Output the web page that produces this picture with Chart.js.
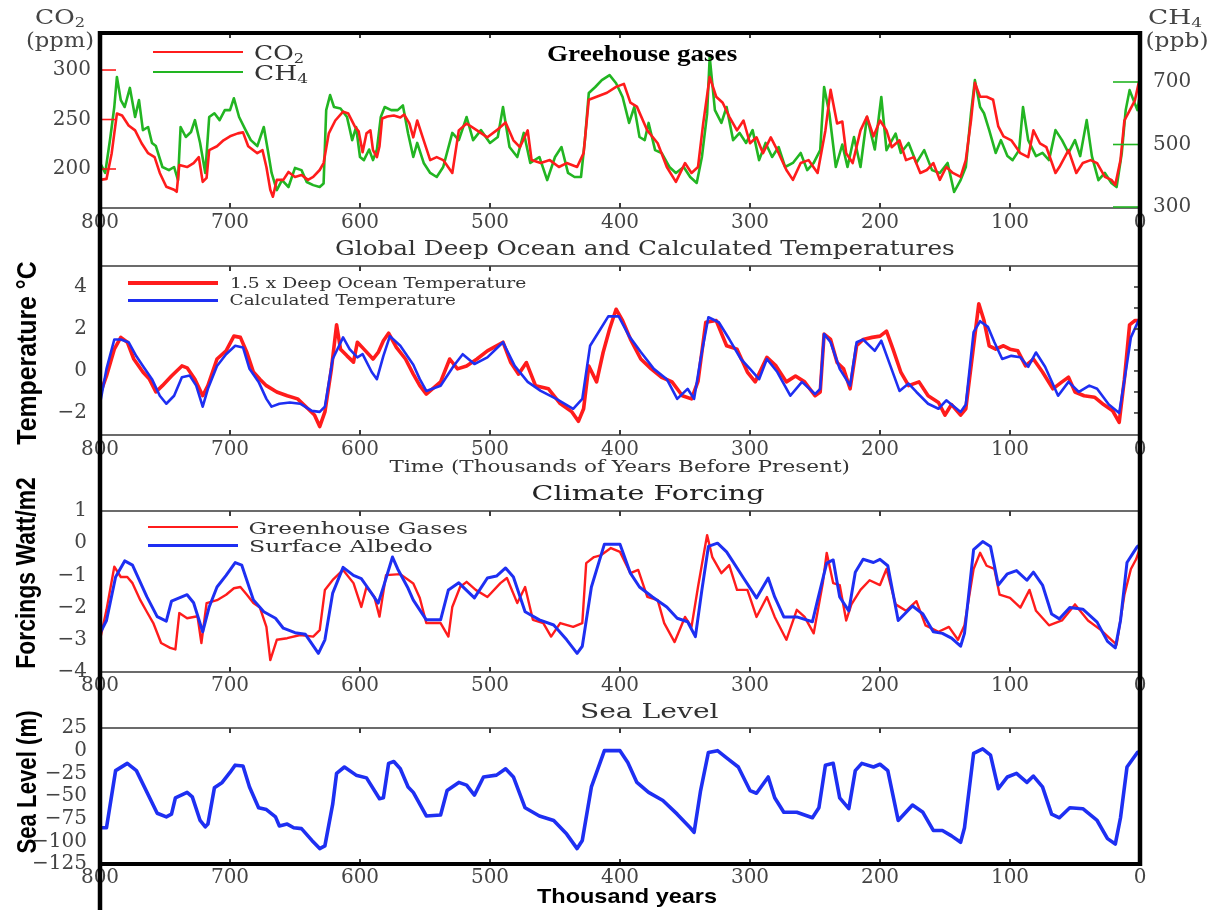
<!DOCTYPE html>
<html><head><meta charset="utf-8">
<script src="https://cdn.jsdelivr.net/npm/chart.js@4.4.0/dist/chart.umd.min.js"></script>
<style>
html,body{margin:0;padding:0;background:#fff;}
#wrap{position:relative;width:1224px;height:912px;overflow:hidden;background:#fff;}
canvas{position:absolute;left:0;display:block;}
.t{position:absolute;left:0;top:0;white-space:nowrap;transform-origin:center center;line-height:1;color:#222;}
.t sub{font-size:65%;vertical-align:-0.25em;line-height:0;}
.sw{position:absolute;}
</style></head>
<body><div id="wrap">
<canvas id="c1" width="1224" height="240" style="top:0px"></canvas>
<canvas id="c2" width="1224" height="235" style="top:240px"></canvas>
<canvas id="c3" width="1224" height="225" style="top:475px"></canvas>
<canvas id="c4" width="1224" height="212" style="top:700px"></canvas>
</div>
<script>
// ---------------- DATA (thousand years before present, value) ----------------
const xTicks = [800,700,600,500,400,300,200,100,0];
const co2Ticks = [200,250,300];
const ch4Ticks = [300,500,700];
const tempTicks = [-2,0,2,4];
const forcingTicks = [1,0,-1,-2,-3,-4];
const seaTicks = [25,0,-25,-50,-75,-100,-125];

const co2Series = [[800,189],[795,190],[791,216],[787,256],[783,254],[778,244],[773,239],[768,226],[763,216],[758,212],[754,196],[749,182],[743,179],[741,177],[739,204],[733,202],[728,206],[724,212],[721,187],[718,191],[716,219],[710,223],[705,229],[700,233],[694,236],[690,237],[686,223],[682,219],[679,216],[675,219],[672,202],[669,179],[667,172],[664,189],[659,189],[655,197],[650,192],[645,194],[640,189],[636,192],[631,199],[628,206],[624,236],[619,249],[613,258],[609,256],[604,243],[601,238],[598,217],[595,236],[592,239],[590,219],[587,212],[585,223],[583,251],[579,253],[574,254],[569,252],[566,255],[562,246],[559,232],[556,249],[551,229],[546,209],[541,212],[536,209],[529,196],[524,239],[518,246],[510,239],[502,232],[495,239],[488,247],[482,229],[477,222],[471,239],[468,209],[461,206],[454,209],[447,202],[441,206],[433,202],[428,216],[424,270],[418,273],[410,277],[403,283],[397,286],[392,267],[387,263],[379,239],[371,226],[364,202],[357,187],[350,206],[345,196],[340,202],[336,246],[331,293],[326,273],[321,267],[316,253],[310,239],[305,249],[300,226],[295,232],[290,216],[284,232],[279,219],[272,199],[267,189],[261,206],[255,209],[248,196],[242,239],[238,280],[233,246],[229,248],[226,216],[221,206],[215,239],[210,253],[205,233],[200,249],[195,239],[191,222],[185,229],[180,209],[174,212],[169,196],[164,199],[159,206],[154,189],[149,202],[144,196],[138,192],[134,209],[130,249],[127,287],[123,273],[118,273],[113,270],[109,243],[105,233],[99,229],[92,216],[86,212],[82,239],[77,226],[72,222],[65,196],[62,202],[55,219],[49,196],[44,206],[38,209],[33,206],[27,192],[22,189],[19,184],[15,209],[12,249],[8,259],[4,269],[1,287],[0,280]];

const ch4Series = [[800,441],[796,409],[792,524],[789,620],[787,716],[784,642],[781,620],[777,681],[773,588],[770,642],[767,546],[763,556],[760,505],[757,495],[752,428],[747,418],[743,428],[740,386],[738,556],[734,524],[730,540],[727,578],[723,505],[719,409],[716,588],[712,600],[708,578],[704,610],[700,610],[697,648],[693,588],[688,546],[684,514],[679,495],[674,556],[671,484],[668,409],[664,354],[660,386],[655,364],[650,425],[645,418],[641,380],[636,370],[631,364],[628,375],[626,610],[623,658],[620,620],[615,615],[610,588],[606,514],[603,556],[600,460],[597,450],[593,484],[590,450],[587,484],[584,588],[581,620],[576,610],[571,610],[567,625],[563,535],[559,460],[556,505],[551,441],[546,409],[541,396],[536,428],[529,537],[524,514],[518,588],[513,514],[507,546],[500,505],[494,524],[490,620],[485,492],[479,460],[474,537],[469,441],[462,460],[456,386],[450,460],[445,492],[440,409],[435,396],[430,396],[427,514],[424,665],[419,684],[414,706],[408,722],[403,696],[398,652],[393,569],[389,620],[385,524],[381,514],[378,569],[373,482],[368,473],[362,428],[357,409],[351,428],[346,396],[341,377],[337,460],[333,598],[331,780],[327,610],[322,569],[318,620],[313,514],[308,537],[303,505],[298,546],[293,450],[288,505],[283,460],[278,492],[273,428],[267,441],[261,473],[256,418],[251,441],[246,482],[243,684],[239,600],[234,428],[229,500],[225,428],[220,524],[215,428],[210,588],[204,484],[199,652],[195,482],[188,535],[184,473],[178,505],[172,441],[166,482],[160,418],[154,409],[148,441],[143,348],[138,386],[134,428],[130,600],[127,706],[123,620],[120,600],[116,546],[111,473],[107,514],[102,463],[98,450],[93,482],[90,620],[86,514],[80,463],[75,473],[70,450],[65,546],[60,514],[55,473],[50,514],[46,463],[41,578],[37,463],[32,386],[27,409],[22,377],[18,364],[14,473],[11,610],[8,674],[5,642],[2,610],[0,660]];

const tempCalcSeries = [[800,-1.56],[795,0.1],[789,1.5],[784,1.5],[778,1.37],[772,0.7],[767,0.24],[760,-0.39],[754,-1.18],[749,-1.56],[743,-1.18],[737,-0.3],[731,-0.22],[726,-0.7],[721,-1.7],[717,-0.85],[710,0.24],[703,0.8],[696,1.2],[690,1.12],[685,0.1],[678,-0.52],[672,-1.33],[668,-1.7],[662,-1.56],[654,-1.5],[646,-1.56],[637,-1.9],[631,-1.95],[627,-1.7],[621,0.57],[613,1.6],[608,1.04],[602,0.65],[598,0.8],[591,-0.05],[587,-0.39],[582,0.72],[577,1.66],[569,1.2],[559,0.3],[554,-0.39],[549,-0.95],[538,-0.7],[528,0.24],[521,0.8],[512,0.33],[502,0.65],[490,1.37],[481,0.24],[471,-0.52],[461,-0.95],[449,-1.33],[436,-1.8],[429,-1.33],[423,1.2],[415,2.0],[409,2.6],[401,2.6],[393,1.66],[384,0.9],[374,0.1],[364,-0.39],[356,-1.33],[348,-0.85],[343,-1.33],[338,0.57],[332,2.56],[324,2.32],[316,1.52],[307,0.57],[300,0.1],[293,-0.39],[287,0.57],[279,-0.05],[269,-1.18],[260,-0.52],[250,-1.1],[246,-0.85],[243,1.76],[238,1.37],[231,0.1],[223,-0.7],[218,1.37],[213,1.5],[204,0.96],[199,1.44],[192,0.24],[185,-0.95],[178,-0.6],[172,-1.0],[163,-1.56],[155,-1.8],[149,-1.4],[138,-1.95],[134,-1.6],[128,1.85],[123,2.37],[117,2.1],[112,1.37],[106,0.57],[99,0.72],[92,0.65],[86,0.2],[80,0.88],[73,0.2],[63,-1.18],[55,-0.52],[47,-1.0],[39,-0.7],[33,-0.85],[24,-1.6],[16,-2.0],[11,-0.05],[7,1.6],[0,2.56]];

const tempOceanSeries = [[800,-1.1],[795,-0.24],[789,1.04],[784,1.6],[779,1.37],[774,0.57],[767,-0.05],[762,-0.39],[757,-1.0],[752,-0.7],[745,-0.24],[737,0.24],[733,0.15],[727,-0.39],[721,-1.18],[717,-0.7],[710,0.57],[703,0.96],[697,1.66],[692,1.6],[687,0.88],[682,-0.05],[677,-0.39],[672,-0.7],[664,-1.0],[656,-1.18],[648,-1.33],[640,-1.8],[635,-2.1],[631,-2.65],[627,-1.95],[622,0.1],[618,2.2],[615,1.04],[610,0.72],[605,0.42],[602,1.37],[597,1.04],[590,0.57],[586,0.88],[582,1.44],[578,1.8],[572,1.12],[565,0.57],[559,-0.15],[554,-0.7],[549,-1.1],[538,-0.52],[531,0.57],[525,0.1],[518,0.24],[510,0.57],[502,0.96],[490,1.37],[484,0.4],[478,-0.15],[472,0.4],[465,-0.7],[455,-0.85],[446,-1.55],[437,-1.95],[432,-2.4],[428,-1.8],[424,0.24],[418,-0.52],[413,0.88],[408,2.0],[403,2.94],[398,2.4],[392,1.52],[384,0.57],[376,0.1],[368,-0.3],[360,-0.52],[352,-1.18],[345,-1.33],[340,-0.5],[334,2.32],[326,2.4],[318,1.2],[310,1.04],[302,-0.05],[296,-0.52],[287,0.65],[280,0.24],[272,-0.52],[265,-0.24],[258,-0.52],[250,-1.18],[246,-1.0],[243,1.76],[238,1.5],[233,0.4],[228,0.1],[223,-0.85],[218,1.2],[213,1.5],[206,1.6],[200,1.66],[195,1.9],[190,1.04],[184,-0.05],[178,-0.7],[170,-0.52],[163,-1.18],[155,-1.5],[150,-2.1],[145,-1.6],[138,-2.1],[134,-1.8],[128,1.2],[124,3.2],[120,2.4],[116,1.2],[111,1.04],[105,1.2],[100,1.04],[94,0.96],[88,0.24],[82,0.57],[75,-0.05],[67,-0.85],[60,-0.52],[55,-0.3],[50,-1.0],[43,-1.18],[35,-1.25],[28,-1.6],[21,-1.9],[16,-2.45],[12,-0.39],[8,2.2],[4,2.4],[0,2.4]];

const forcingAlbedoSeries = [[800,-2.8],[795,-2.4],[788,-1.05],[781,-0.55],[775,-0.68],[764,-1.66],[756,-2.28],[749,-2.42],[745,-1.8],[733,-1.6],[728,-1.85],[721,-2.75],[716,-1.98],[710,-1.36],[703,-1.0],[696,-0.6],[691,-0.68],[682,-1.76],[674,-2.13],[665,-2.33],[659,-2.64],[650,-2.78],[642,-2.83],[632,-3.42],[627,-3.0],[621,-1.55],[613,-0.75],[605,-1.0],[599,-1.1],[592,-1.5],[586,-1.86],[582,-1.36],[575,-0.43],[571,-0.8],[563,-1.4],[559,-1.77],[549,-2.38],[538,-2.38],[532,-1.45],[524,-1.23],[512,-1.7],[502,-1.08],[495,-1.02],[488,-0.77],[482,-1.05],[473,-2.13],[462,-2.38],[451,-2.54],[441,-3.0],[433,-3.42],[429,-3.2],[422,-1.36],[412,-0.03],[400,-0.03],[392,-0.93],[385,-1.36],[375,-1.67],[364,-1.98],[356,-2.33],[348,-2.44],[342,-2.9],[337,-1.45],[332,-0.1],[325,0.0],[318,-0.27],[313,-0.58],[305,-1.08],[295,-1.7],[286,-1.08],[281,-1.67],[274,-2.29],[264,-2.29],[252,-2.44],[248,-1.77],[241,-0.62],[236,-0.52],[231,-1.67],[224,-2.1],[219,-0.9],[213,-0.5],[205,-0.6],[200,-0.5],[194,-0.7],[186,-2.4],[175,-1.95],[167,-2.2],[159,-2.75],[152,-2.8],[145,-2.95],[138,-3.2],[135,-2.8],[128,-0.2],[121,0.05],[115,-0.1],[109,-1.3],[102,-0.95],[95,-0.85],[87,-1.15],[82,-0.9],[75,-1.3],[68,-2.2],[62,-2.35],[54,-2.0],[44,-2.05],[33,-2.45],[25,-3.05],[19,-3.25],[15,-2.4],[10,-0.6],[2,-0.1],[0,-0.05]];

const forcingGhgSeries = [[800,-3.0],[795,-2.07],[789,-0.73],[784,-1.05],[779,-1.05],[775,-1.24],[769,-1.77],[764,-2.13],[759,-2.48],[753,-3.1],[746,-3.25],[742,-3.3],[739,-2.17],[733,-2.33],[725,-2.27],[722,-3.1],[718,-1.86],[710,-1.77],[703,-1.6],[697,-1.4],[692,-1.36],[687,-1.6],[682,-1.86],[677,-2.0],[672,-2.6],[669,-3.63],[664,-3.0],[656,-2.95],[646,-2.85],[636,-2.9],[631,-2.7],[627,-1.45],[621,-1.14],[613,-0.83],[605,-1.24],[599,-1.98],[595,-1.36],[589,-1.66],[585,-2.28],[580,-0.99],[569,-0.96],[559,-1.25],[554,-1.7],[549,-2.48],[538,-2.48],[532,-2.9],[529,-1.98],[523,-1.36],[518,-1.2],[511,-1.45],[502,-1.67],[492,-1.24],[487,-1.08],[479,-1.86],[473,-1.36],[467,-2.38],[459,-2.48],[453,-2.9],[446,-2.48],[436,-2.6],[429,-2.48],[426,-0.62],[420,-0.43],[415,-0.38],[407,-0.15],[400,-0.27],[392,-0.93],[386,-0.83],[379,-1.67],[371,-1.77],[366,-2.48],[358,-3.07],[350,-2.29],[345,-2.6],[340,-1.36],[335,-0.2],[333,0.25],[329,-0.43],[322,-0.93],[316,-0.68],[310,-1.45],[302,-1.45],[295,-2.29],[287,-1.67],[281,-2.29],[272,-3.0],[264,-2.07],[258,-2.29],[251,-2.8],[244,-1.24],[241,-0.3],[236,-1.24],[231,-1.3],[226,-2.4],[222,-1.9],[215,-1.45],[208,-1.15],[200,-1.3],[195,-0.8],[188,-1.9],[180,-2.1],[172,-1.8],[165,-2.55],[155,-2.75],[147,-2.6],[140,-3.0],[135,-2.55],[128,-0.8],[123,-0.3],[118,-0.7],[112,-0.8],[108,-1.6],[100,-1.7],[92,-2.0],[85,-1.45],[80,-2.1],[70,-2.55],[60,-2.4],[50,-1.9],[40,-2.4],[30,-2.7],[22,-3.0],[18,-3.15],[12,-1.6],[7,-0.8],[3,-0.5],[0,-0.15]];

const seaLevelSeries = [[800,-85],[795,-85],[788,-22],[779,-14],[772,-22],[756,-69],[749,-73],[745,-70],[742,-52],[733,-46],[729,-51],[723,-77],[719,-84],[717,-81],[712,-41],[706,-35],[700,-24],[696,-16],[690,-17],[685,-40],[678,-63],[672,-65],[665,-73],[662,-83],[656,-81],[651,-85],[645,-86],[637,-99],[631,-108],[627,-105],[621,-59],[618,-25],[612,-18],[603,-27],[595,-30],[585,-53],[582,-52],[578,-14],[574,-12],[569,-20],[563,-40],[559,-46],[549,-72],[538,-71],[533,-44],[524,-35],[518,-38],[512,-49],[505,-29],[495,-27],[488,-20],[482,-29],[473,-63],[462,-72],[451,-77],[441,-92],[433,-108],[429,-99],[422,-40],[412,0],[400,0],[394,-13],[387,-35],[378,-46],[367,-55],[356,-70],[346,-85],[343,-90],[338,-44],[332,-2],[325,0],[318,-8],[309,-18],[300,-44],[295,-47],[286,-29],[281,-52],[274,-68],[264,-68],[252,-74],[247,-63],[242,-16],[236,-14],[231,-52],[224,-64],[219,-22],[214,-14],[205,-18],[200,-15],[194,-22],[186,-77],[175,-60],[167,-68],[159,-88],[152,-88],[145,-94],[138,-101],[135,-85],[128,-3],[121,2],[115,-5],[109,-42],[102,-29],[95,-25],[87,-35],[82,-28],[75,-40],[68,-70],[62,-74],[54,-63],[44,-64],[33,-77],[25,-97],[19,-103],[15,-74],[10,-18],[2,-2],[0,-1]];

// ---------------- STYLE ----------------
const RED = '#ff1c1c', GREEN = '#22b522', BLUE = '#1e2ff2';
const TICK_FONT = {family: "'DejaVu Serif', serif", size: 20};
const TICK_COLOR = '#444';
const fmt = v => String(v).replace('-', '\u2212');
const pts = s => s.map(([x, y]) => ({x, y}));

function xScale(axisH, pad) {
  return {
    type: 'linear', reverse: true, min: 0, max: 800, position: 'bottom',
    afterBuildTicks: s => { s.ticks = xTicks.map(v => ({value: v})); },
    afterFit: s => { s.height = axisH; },
    grid: {display: false, drawTicks: false}, border: {display: false},
    ticks: {font: TICK_FONT, color: TICK_COLOR, padding: pad, maxRotation: 0, autoSkip: false, callback: v => String(v)}
  };
}
function yScale(min, max, ticks, pos, width, pad) {
  return {
    type: 'linear', min, max, position: pos,
    afterBuildTicks: s => { s.ticks = ticks.map(v => ({value: v})); },
    afterFit: s => { s.width = width; },
    grid: {display: false, drawTicks: false}, border: {display: false},
    ticks: {font: TICK_FONT, color: TICK_COLOR, padding: pad, autoSkip: false, callback: v => fmt(v)}
  };
}

function line(ctx, x1, y1, x2, y2) { ctx.beginPath(); ctx.moveTo(x1, y1); ctx.lineTo(x2, y2); ctx.stroke(); }

function framePlugin(cfg) {
  return {
    id: 'frame',
    afterDraw(chart) {
      const {ctx, chartArea: a} = chart;
      const xs = chart.scales.x;
      ctx.save();
      ctx.lineCap = 'butt';
      // thin panel box
      ctx.strokeStyle = '#3a3a3a'; ctx.lineWidth = 1.6;
      line(ctx, a.left, a.top, a.right, a.top);
      line(ctx, a.left, a.bottom, a.right, a.bottom);
      // inward x tick marks
      ctx.lineWidth = 2;
      xTicks.forEach(v => {
        if (v === 0 || v === 800) return;
        const px = xs.getPixelForValue(v);
        line(ctx, px, a.top, px, a.top + 5);
        line(ctx, px, a.bottom, px, a.bottom - 5);
      });
      if (cfg.extra) cfg.extra(chart, ctx, a);
      // thick outer frame
      ctx.strokeStyle = '#000'; ctx.lineWidth = 4.5;
      line(ctx, a.left, cfg.topL, a.left, cfg.botL);
      line(ctx, a.right, cfg.topR, a.right, cfg.botR);
      if (cfg.thickTop) { ctx.lineWidth = 4; line(ctx, a.left - 2, a.top, a.right + 2, a.top); }
      if (cfg.thickBottom) { ctx.lineWidth = 4; line(ctx, a.left - 2, a.bottom, a.right + 2, a.bottom); }
      ctx.restore();
    }
  };
}

const common = {
  responsive: false, animation: false, events: [],
  plugins: {legend: {display: false}, tooltip: {enabled: false}},
  elements: {point: {radius: 0}, line: {tension: 0, borderJoinStyle: 'round', borderCapStyle: 'round'}}
};

// Panel 1: greenhouse gases
new Chart(document.getElementById('c1'), {
  type: 'line',
  data: {datasets: [
    {label: 'CO2', data: pts(co2Series), borderColor: RED, borderWidth: 2.6, yAxisID: 'y', fill: false},
    {label: 'CH4', data: pts(ch4Series), borderColor: GREEN, borderWidth: 2.6, yAxisID: 'y2', fill: false}
  ]},
  options: Object.assign({}, common, {
    layout: {padding: {top: 33, right: 0, left: 0, bottom: 0}},
    scales: {
      x: xScale(32, 3),
      y: yScale(160.6, 337.4, co2Ticks, 'left', 100, 9),
      y2: yScale(296.8, 856.8, ch4Ticks, 'right', 84, 13)
    }
  }),
  plugins: [framePlugin({topL: 31, botL: 240, topR: 31, botR: 240, thickTop: true,
    extra: (chart, ctx, a) => {
      ctx.lineWidth = 1.6;
      ctx.strokeStyle = RED;
      co2Ticks.forEach(v => { const py = chart.scales.y.getPixelForValue(v); line(ctx, a.left, py, a.left + 16, py); });
      ctx.strokeStyle = GREEN;
      ch4Ticks.forEach(v => { const py = chart.scales.y2.getPixelForValue(v); line(ctx, a.right - 27, py, a.right, py); });
    }})]
});

// Panel 2: temperatures
new Chart(document.getElementById('c2'), {
  type: 'line',
  data: {datasets: [
    {label: 'Calculated Temperature', data: pts(tempCalcSeries), borderColor: BLUE, borderWidth: 2.6, fill: false},
    {label: '1.5 x Deep Ocean Temperature', data: pts(tempOceanSeries), borderColor: RED, borderWidth: 3.6, fill: false}
  ]},
  options: Object.assign({}, common, {
    layout: {padding: {top: 26, right: 84, left: 0, bottom: 0}},
    scales: {x: xScale(40, 3), y: yScale(-3.05, 5, tempTicks, 'left', 100, 13)}
  }),
  plugins: [framePlugin({topL: 0, botL: 235, topR: 0, botR: 235,
    extra: (chart, ctx, a) => {
      ctx.strokeStyle = '#3a3a3a'; ctx.lineWidth = 1.6;
      [-2,-1,0,1,2,3,4].forEach(v => { const py = chart.scales.y.getPixelForValue(v); line(ctx, a.right - 6, py, a.right, py); });
    }})]
});

// Panel 3: climate forcing
new Chart(document.getElementById('c3'), {
  type: 'line',
  data: {datasets: [
    {label: 'Surface Albedo', data: pts(forcingAlbedoSeries), borderColor: BLUE, borderWidth: 3, fill: false},
    {label: 'Greenhouse Gases', data: pts(forcingGhgSeries), borderColor: RED, borderWidth: 2.4, fill: false}
  ]},
  options: Object.assign({}, common, {
    layout: {padding: {top: 36, right: 84, left: 0, bottom: 0}},
    scales: {x: xScale(28, 2), y: yScale(-4, 1, forcingTicks, 'left', 100, 13)}
  }),
  plugins: [framePlugin({topL: 0, botL: 225, topR: 0, botR: 225})]
});

// Panel 4: sea level
new Chart(document.getElementById('c4'), {
  type: 'line',
  data: {datasets: [
    {label: 'Sea Level', data: pts(seaLevelSeries), borderColor: BLUE, borderWidth: 3.6, fill: false}
  ]},
  options: Object.assign({}, common, {
    layout: {padding: {top: 28, right: 84, left: 0, bottom: 0}},
    scales: {x: xScale(48, 2), y: yScale(-125, 25, seaTicks, 'left', 100, 13)}
  }),
  plugins: [framePlugin({topL: 0, botL: 210, topR: 0, botR: 166, thickBottom: true})]
});

// ---------------- TEXT ----------------
const wrap = document.getElementById('wrap');
function addText(html, cx, cy, w, font, opts = {}) {
  const d = document.createElement('div');
  d.className = 't'; d.innerHTML = html; d.style.font = font;
  if (opts.color) d.style.color = opts.color;
  wrap.appendChild(d);
  const bw = d.offsetWidth, bh = d.offsetHeight;
  const sx = w ? w / bw : 1;
  d.style.transform = `translate(${cx - bw / 2}px, ${cy - bh / 2}px) rotate(${opts.rot || 0}deg) scale(${sx}, 1)`;
}
function addSwatch(x1, x2, y, color, h) {
  const d = document.createElement('div');
  d.className = 'sw';
  d.style.left = x1 + 'px'; d.style.top = (y - h / 2) + 'px';
  d.style.width = (x2 - x1) + 'px'; d.style.height = h + 'px'; d.style.background = color;
  wrap.appendChild(d);
}
const SERIF = "'DejaVu Serif', serif";
const SANS = "'Liberation Sans', Arial, sans-serif";

addText('CO<sub>2</sub>', 60, 17, 50, `20px ${SERIF}`, {color: '#444'});
addText('(ppm)', 60, 40, 68, `20px ${SERIF}`, {color: '#444'});
addText('CH<sub>4</sub>', 1175, 17, 54, `20px ${SERIF}`, {color: '#444'});
addText('(ppb)', 1177, 40, 63, `20px ${SERIF}`, {color: '#444'});

addText('Greehouse gases', 642, 53, 190, `bold 24px 'Liberation Serif', serif`, {color: '#000'});
addText('Global Deep Ocean and Calculated Temperatures', 645, 248, 620, `21px ${SERIF}`, {color: '#333'});
addText('Time (Thousands of Years Before Present)', 620, 466, 461, `16px ${SERIF}`, {color: '#333'});
addText('Climate Forcing', 648, 493, 233, `21px ${SERIF}`, {color: '#222'});
addText('Sea Level', 649, 711, 138, `20px ${SERIF}`, {color: '#333'});
addText('Thousand years', 627, 896, 180, `bold 21px ${SANS}`, {color: '#000'});

addText('Temperature \u00B0C', 27, 353, 183, `bold 27px ${SANS}`, {rot: -90, color: '#000'});
addText('Forcings Watt/m2', 27, 573, 192, `bold 27px ${SANS}`, {rot: -90, color: '#000'});
addText('Sea Level (m)', 27, 782, 143, `bold 27px ${SANS}`, {rot: -90, color: '#000'});

// legends
addSwatch(153, 243, 52, RED, 2);
addSwatch(153, 243, 72, GREEN, 2);
addText('CO<sub>2</sub>', 279, 53, 50, `20px ${SERIF}`, {color: '#333'});
addText('CH<sub>4</sub>', 281, 73, 54, `20px ${SERIF}`, {color: '#333'});

addSwatch(128, 218, 283, RED, 4);
addSwatch(128, 218, 300, BLUE, 3);
addText('1.5 x Deep Ocean Temperature', 378, 283, 296, `15px ${SERIF}`, {color: '#333'});
addText('Calculated Temperature', 343, 300, 227, `15px ${SERIF}`, {color: '#333'});

addSwatch(148, 238, 527, RED, 2);
addSwatch(148, 238, 545, BLUE, 3);
addText('Greenhouse Gases', 358, 528, 219, `17px ${SERIF}`, {color: '#333'});
addText('Surface Albedo', 341, 546, 184, `17px ${SERIF}`, {color: '#333'});
</script>
</body></html>
